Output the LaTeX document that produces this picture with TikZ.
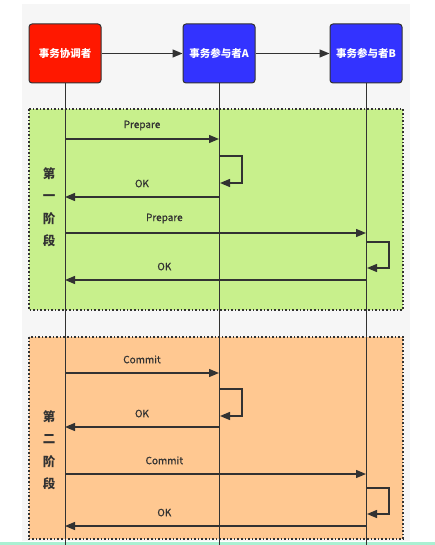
\documentclass[tikz,border=0pt]{standalone}
\usepackage{fontspec}
\setmainfont{Noto Sans CJK SC}
\usetikzlibrary{arrows.meta}
\definecolor{bgray}{RGB}{246,246,246}
\definecolor{mint}{RGB}{170,240,210}
\definecolor{cred}{RGB}{255,24,0}
\definecolor{cblue}{RGB}{51,51,255}
\definecolor{cgreen}{RGB}{200,240,140}
\definecolor{corange}{RGB}{255,200,145}
\definecolor{ink}{RGB}{50,50,50}
\tikzset{
  actor/.style={draw=ink, line width=1pt, rounded corners=3pt, minimum width=72pt, minimum height=59pt, inner sep=0pt, text=white, font=\fontsize{10.5}{12}\selectfont\bfseries},
  region/.style={draw=ink, line width=1.6pt, dotted},
  life/.style={draw=ink, line width=1pt},
  msg/.style={draw=ink, line width=1.3pt, -{Triangle[length=10pt,width=8pt]}},
  loopmsg/.style={draw=ink, line width=1.3pt, -{Triangle[length=10pt,width=8pt]}},
  lbl/.style={font=\fontsize{10}{12}\selectfont\addfontfeature{FakeBold=0.6}, text=ink, inner sep=0pt},
  phase/.style={font=\fontsize{12.5}{22.5}\selectfont\bfseries, text=ink, align=center, inner sep=0pt}
}
\begin{document}
\begin{tikzpicture}[x=1pt,y=-1pt]
\useasboundingbox (0,0) rectangle (435,545);
\fill[white] (0,0) rectangle (435,545);
\fill[bgray] (22,4) rectangle (410,541);
\fill[mint] (0,542) rectangle (435,545);
% regions
\fill[cgreen] (29,109) rectangle (403,310);
\draw[region] (29,109) rectangle (403,310);
\fill[corange] (29,337) rectangle (403,539);
\draw[region] (29,337) rectangle (403,539);
% actors
\node[actor, fill=cred] (C) at (65,53.5) {事务协调者};
\node[actor, fill=cblue] (A) at (219,53.5) {事务参与者A};
\node[actor, fill=cblue] (B) at (366,53.5) {事务参与者B};
\draw[msg] (C) -- (A);
\draw[msg] (A) -- (B);
% lifeline ends
\coordinate (Ce) at (65,545);
\coordinate (Ae) at (219,545);
\coordinate (Be) at (366,545);
\draw[life] (C.south) -- (Ce);
\draw[life] (A.south) -- (Ae);
\draw[life] (B.south) -- (Be);
% message coordinates, phase 1
\coordinate (c1) at (65,139); \coordinate (a1) at (219,139);
\coordinate (a2) at (219,197); \coordinate (c2) at (65,197);
\coordinate (c3) at (65,233); \coordinate (b3) at (366,233);
\coordinate (b4) at (366,280); \coordinate (c4) at (65,280);
\coordinate (la1) at (220,156); \coordinate (la2) at (220,183);
\coordinate (lb1) at (367,242); \coordinate (lb2) at (367,268);
% phase 1 messages
\draw[msg] (c1) -- node[lbl, above=8pt] {Prepare} (a1);
\draw[loopmsg] (la1) -- ++(22,0) |- (la2);
\draw[msg] (a2) -- node[lbl, above=9pt, pos=0.5] {OK} (c2);
\draw[msg] (c3) -- node[lbl, above=9pt, pos=0.33] {Prepare} (b3);
\draw[loopmsg] (lb1) -- ++(22,0) |- (lb2);
\draw[msg] (b4) -- node[lbl, above=9pt, pos=0.67] {OK} (c4);
\node[phase] (P1) at (49,207) {第\\一\\阶\\段};
% phase 2
\coordinate (c5) at (65,373); \coordinate (a5) at (219,373);
\coordinate (a6) at (219,427); \coordinate (c6) at (65,427);
\coordinate (c7) at (65,474); \coordinate (b7) at (366,474);
\coordinate (b8) at (366,526); \coordinate (c8) at (65,526);
\coordinate (la3) at (220,389); \coordinate (la4) at (220,416);
\coordinate (lb3) at (367,488); \coordinate (lb4) at (367,514);
\draw[msg] (c5) -- node[lbl, above=9pt] {Commit} (a5);
\draw[loopmsg] (la3) -- ++(22,0) |- (la4);
\draw[msg] (a6) -- node[lbl, above=9pt] {OK} (c6);
\draw[msg] (c7) -- node[lbl, above=9pt, pos=0.33] {Commit} (b7);
\draw[loopmsg] (lb3) -- ++(22,0) |- (lb4);
\draw[msg] (b8) -- node[lbl, above=9pt, pos=0.67] {OK} (c8);
\node[phase] (P2) at (49,450) {第\\二\\阶\\段};
\end{tikzpicture}
\end{document}
